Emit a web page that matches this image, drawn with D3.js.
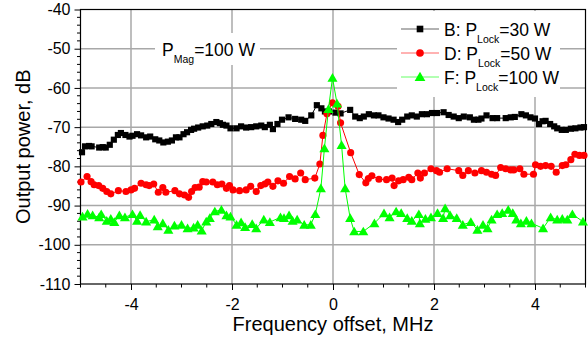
<!DOCTYPE html>
<html><head><meta charset="utf-8">
<script src="https://cdn.jsdelivr.net/npm/d3@7"></script>
<style>body{margin:0;background:#fff}svg{display:block;font-family:"Liberation Sans",Arial,sans-serif}</style>
</head><body><svg id="c" width="588" height="341"></svg>
<script>
const xTicks=[-4,-2,0,2,4];
const yTicks=[-110,-100,-90,-80,-70,-60,-50,-40];
const seriesNames=["B","D","F"];
const lockPowers=["30 W","50 W","100 W"];
const magLabel="100 W";

const bX=[-4.97,-4.91,-4.83,-4.78,-4.63,-4.56,-4.50,-4.42,-4.34,-4.26,-4.20,-4.11,-4.03,-3.97,-3.88,-3.80,-3.70,-3.62,-3.52,-3.44,-3.36,-3.27,-3.19,-3.11,-3.04,-2.96,-2.89,-2.81,-2.75,-2.67,-2.58,-2.49,-2.41,-2.31,-2.24,-2.18,-2.11,-2.03,-1.91,-1.82,-1.72,-1.62,-1.52,-1.42,-1.35,-1.25,-1.19,-1.10,-1.01,-0.88,-0.75,-0.63,-0.55,-0.43,-0.32,-0.23,-0.16,-0.08,0.05,0.15,0.34,0.44,0.53,0.61,0.71,0.81,0.90,1.00,1.10,1.20,1.29,1.37,1.47,1.56,1.66,1.76,1.86,1.96,2.06,2.19,2.29,2.39,2.49,2.59,2.71,2.79,2.88,2.94,3.04,3.16,3.25,3.42,3.52,3.60,3.73,3.82,3.91,4.00,4.08,4.15,4.21,4.30,4.38,4.44,4.53,4.61,4.71,4.80,4.90,4.97];
const bY=[-76.4,-74.9,-74.8,-74.9,-75.2,-75.1,-75.2,-74.5,-73.2,-72.0,-71.5,-72.0,-72.4,-72.2,-71.8,-72.1,-72.6,-72.4,-73.1,-73.4,-73.9,-73.7,-73.4,-72.6,-72.6,-71.8,-71.3,-70.7,-70.4,-70.1,-69.8,-69.6,-69.2,-68.7,-69.0,-69.4,-69.6,-70.3,-70.3,-69.8,-70.1,-70.0,-69.8,-69.6,-70.0,-69.4,-70.5,-69.2,-68.1,-67.5,-67.9,-68.1,-68.4,-67.0,-64.4,-65.2,-66.0,-66.0,-66.3,-66.5,-65.6,-67.3,-67.7,-67.3,-66.7,-67.0,-67.0,-67.5,-67.8,-68.1,-68.7,-68.1,-67.3,-67.0,-67.3,-66.7,-66.7,-66.4,-66.4,-66.2,-66.9,-67.3,-67.7,-67.3,-67.5,-68.1,-68.1,-67.8,-67.0,-67.7,-67.7,-67.7,-67.5,-67.4,-66.7,-67.0,-67.5,-67.8,-69.2,-68.5,-68.4,-69.2,-69.8,-70.3,-70.7,-70.7,-70.4,-70.3,-70.1,-70.0];

const dX=[-4.99,-4.87,-4.79,-4.73,-4.64,-4.56,-4.48,-4.40,-4.25,-4.10,-4.00,-3.93,-3.80,-3.70,-3.64,-3.55,-3.46,-3.37,-3.31,-3.13,-3.04,-2.94,-2.86,-2.80,-2.73,-2.65,-2.58,-2.51,-2.38,-2.29,-2.20,-2.11,-2.05,-1.98,-1.85,-1.72,-1.63,-1.52,-1.43,-1.35,-1.29,-1.19,-1.09,-0.98,-0.86,-0.75,-0.64,-0.55,-0.36,-0.26,-0.20,-0.12,-0.01,0.10,0.15,0.35,0.52,0.65,0.70,0.77,0.91,1.06,1.17,1.21,1.30,1.39,1.50,1.56,1.68,1.73,1.81,1.94,2.05,2.11,2.26,2.49,2.57,2.68,2.81,2.94,3.04,3.14,3.22,3.32,3.42,3.52,3.58,3.70,3.78,3.97,4.01,4.11,4.21,4.32,4.42,4.54,4.61,4.71,4.79,4.88,4.97];
const dY=[-84.0,-82.6,-83.9,-84.7,-84.9,-85.6,-86.4,-87.0,-86.2,-86.4,-86.0,-85.6,-84.3,-84.7,-84.9,-84.5,-86.6,-85.4,-86.6,-86.2,-87.0,-87.3,-87.9,-86.4,-85.4,-85.3,-83.9,-84.0,-84.0,-84.7,-84.5,-85.6,-84.9,-86.0,-86.2,-86.0,-85.1,-86.4,-84.9,-84.5,-84.0,-85.1,-83.7,-84.3,-82.6,-83.2,-81.7,-83.4,-83.0,-79.4,-72.1,-66.6,-63.8,-64.7,-68.9,-76.5,-82.1,-84.2,-83.1,-82.4,-83.3,-83.4,-83.0,-84.9,-83.7,-83.4,-82.8,-83.4,-81.7,-83.0,-81.7,-80.6,-81.1,-81.5,-80.6,-81.1,-82.3,-81.1,-81.7,-81.1,-81.5,-82.0,-82.3,-80.3,-80.6,-80.9,-80.9,-80.6,-82.0,-82.0,-79.6,-80.0,-79.8,-80.0,-81.5,-79.8,-79.6,-78.3,-76.9,-77.2,-77.2];

const fX=[-4.96,-4.86,-4.76,-4.63,-4.59,-4.48,-4.40,-4.33,-4.23,-4.12,-3.97,-3.88,-3.82,-3.70,-3.54,-3.47,-3.37,-3.26,-3.14,-3.00,-2.88,-2.76,-2.68,-2.60,-2.51,-2.44,-2.34,-2.21,-2.11,-2.03,-1.91,-1.82,-1.74,-1.60,-1.52,-1.37,-1.25,-1.04,-0.97,-0.87,-0.80,-0.71,-0.57,-0.44,-0.35,-0.24,-0.17,-0.09,-0.01,0.08,0.17,0.24,0.34,0.42,0.60,0.82,1.01,1.12,1.25,1.35,1.47,1.56,1.70,1.72,1.83,1.94,2.07,2.18,2.22,2.32,2.45,2.57,2.73,2.86,2.97,3.06,3.14,3.25,3.35,3.47,3.56,3.63,3.72,3.83,3.93,4.16,4.31,4.44,4.54,4.64,4.74,4.95];
const fY=[-92.8,-92.1,-92.5,-93.0,-92.2,-93.9,-93.4,-94.2,-92.5,-93.0,-92.2,-93.9,-92.4,-94.1,-93.6,-95.3,-94.5,-96.2,-95.1,-94.9,-95.8,-95.6,-94.9,-96.4,-94.1,-93.2,-91.5,-91.1,-92.5,-92.8,-94.9,-94.3,-95.5,-94.7,-95.8,-93.6,-94.2,-93.0,-93.2,-92.5,-93.9,-93.6,-94.9,-94.9,-92.2,-85.6,-75.4,-65.4,-57.4,-64.0,-74.6,-85.6,-93.2,-96.6,-96.6,-94.5,-92.0,-93.0,-91.5,-91.9,-93.2,-93.9,-92.2,-94.5,-93.4,-93.0,-91.9,-93.2,-90.7,-92.5,-93.2,-94.9,-94.2,-96.2,-94.9,-95.8,-93.6,-92.2,-91.9,-91.1,-91.9,-93.6,-94.5,-93.9,-94.5,-95.8,-93.0,-93.6,-93.4,-93.6,-92.2,-94.1];

const colors=["#000000","#ff0000","#00ff00"];
const symbols=[d3.symbolSquare,d3.symbolCircle,d3.symbolTriangle];
const symSizes=[38,40,44];

const svg=d3.select("#c");
const L=80.5,R=585.5,T=9.5,B=284;
const x=d3.scaleLinear().domain([-5,5]).range([L,R]);
const y=d3.scaleLinear().domain([-110,-40]).range([B,T]);

// grid
const g=svg.append("g");
g.selectAll(".gx").data(xTicks).join("line").attr("x1",d=>x(d)).attr("x2",d=>x(d)).attr("y1",T).attr("y2",B).attr("stroke","#a8a8a8").attr("stroke-width",1.5);
g.selectAll(".gy").data(yTicks.slice(1,-1)).join("line").attr("y1",d=>y(d)).attr("y2",d=>y(d)).attr("x1",L).attr("x2",R).attr("stroke","#a8a8a8").attr("stroke-width",1.5);

// white boxes
svg.append("rect").attr("x",155).attr("y",33).attr("width",105).attr("height",32).attr("fill","#fff");
svg.append("rect").attr("x",397).attr("y",11).attr("width",163).attr("height",86).attr("fill","#fff");

// axes
const xAxis=d3.axisBottom(x).tickValues(xTicks).tickSize(6).tickPadding(6).tickFormat(d=>String(d));
const xa=svg.append("g").attr("transform",`translate(0,${B})`).call(xAxis);
const xMinor=d3.range(-5,5.01,0.5).filter(v=>!xTicks.includes(v));
svg.append("g").selectAll("line").data(xMinor).join("line").attr("x1",d=>x(d)).attr("x2",d=>x(d)).attr("y1",B).attr("y2",B+3.5).attr("stroke","#000");
const yAxis=d3.axisLeft(y).tickValues(yTicks).tickSize(6).tickPadding(4).tickFormat(d=>String(d));
const ya=svg.append("g").attr("transform",`translate(${L},0)`).call(yAxis);
const yMinor=d3.range(-110,-39.9,2).filter(v=>!yTicks.includes(v));
svg.append("g").selectAll("line").data(yMinor).join("line").attr("y1",d=>y(d)).attr("y2",d=>y(d)).attr("x1",L).attr("x2",L-3.5).attr("stroke","#000");
[xa,ya].forEach(a=>{a.select(".domain").remove();a.selectAll("text").attr("font-size",16).attr("font-family","Liberation Sans, Arial, sans-serif").attr("fill","#000");});
xa.selectAll("text").attr("dy","0.9em");
// frame
svg.append("rect").attr("x",L).attr("y",T).attr("width",R-L).attr("height",B-T).attr("fill","none").attr("stroke","#000").attr("stroke-width",1.2);

// series
const sets=[[bX,bY],[dX,dY],[fX,fY]];
const line=d3.line().x(d=>x(d[0])).y(d=>y(d[1]));
sets.forEach((s,i)=>{
  const pts=s[0].map((v,j)=>[v,s[1][j]]);
  const sg=svg.append("g");
  sg.append("path").datum(pts).attr("d",line).attr("fill","none").attr("stroke",colors[i]).attr("stroke-width",1);
  sg.selectAll("path.m").data(pts).join("path").attr("class","m").attr("d",d3.symbol(symbols[i],symSizes[i])).attr("transform",d=>`translate(${x(d[0])},${y(d[1])+(i===2?1:0)})`).attr("fill",colors[i]);
});

// legend
const lg=svg.append("g");
const rows=[29,53,77];
seriesNames.forEach((n,i)=>{
  const yy=rows[i];
  lg.append("line").attr("x1",401).attr("x2",439).attr("y1",yy).attr("y2",yy).attr("stroke",colors[i]).attr("stroke-width",1).attr("opacity",0.6);
  lg.append("path").attr("d",d3.symbol(symbols[i],symSizes[i]+6)).attr("transform",`translate(420,${yy+(i===2?1:0)})`).attr("fill",colors[i]);
  const t=lg.append("text").attr("x",444).attr("y",yy+6.5).attr("font-size",17.5).attr("fill","#000");
  t.append("tspan").text(n+": P");
  t.append("tspan").attr("font-size",10.5).attr("dy",7).text("Lock");
  t.append("tspan").attr("dy",-7).text("="+lockPowers[i]);
});

// annotation
const an=svg.append("text").attr("x",162).attr("y",55.5).attr("font-size",17.5).attr("fill","#000");
an.append("tspan").text("P");
an.append("tspan").attr("font-size",10.5).attr("dy",7).text("Mag");
an.append("tspan").attr("dy",-7).text("="+magLabel);

// titles
svg.append("text").attr("x",333).attr("y",331).attr("text-anchor","middle").attr("font-size",20).text("Frequency offset, MHz");
svg.append("text").attr("transform",`translate(30,${(T+B)/2}) rotate(-90)`).attr("text-anchor","middle").attr("font-size",20).text("Output power, dB");
</script></body></html>
